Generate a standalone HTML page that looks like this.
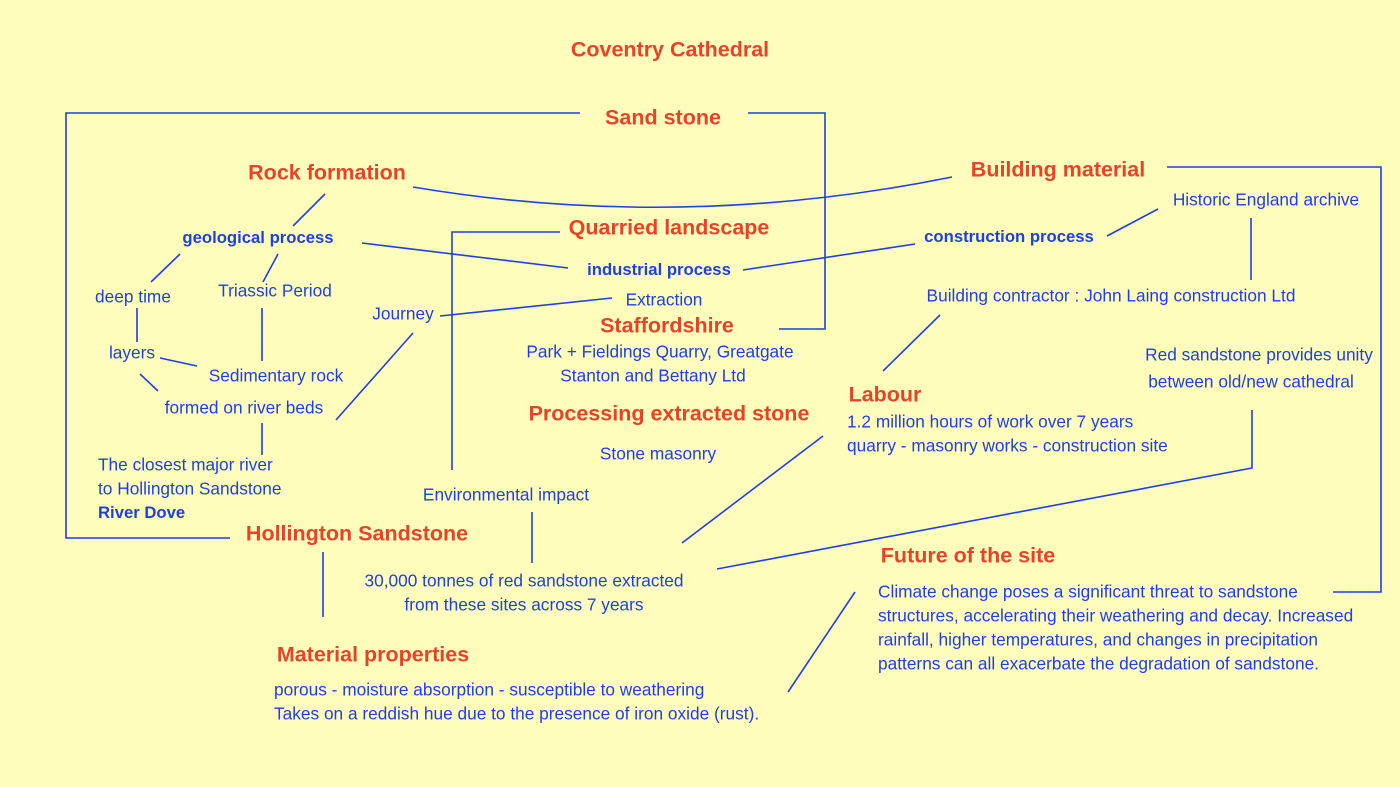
<!DOCTYPE html>
<html><head><meta charset="utf-8"><style>
html,body{margin:0;padding:0}
body{width:1400px;height:787px;background:#FFFDBB;position:relative;overflow:hidden;font-family:"Liberation Sans",sans-serif}
.t{position:absolute;white-space:nowrap;transform:translate(-50%,-50%);color:#1E3FE6;font-size:17.3px}
.l{position:absolute;white-space:nowrap;transform:translateY(-50%);color:#1E3FE6;font-size:17.3px}
.r{color:#E8432A;font-weight:bold;font-size:21.5px}
.b{font-weight:bold;font-size:16.7px}
svg{position:absolute;left:0;top:0}
</style></head><body>
<svg width="1400" height="787" fill="none" stroke="#1E3FE6" stroke-width="1.6">
<polyline points="580,113 66,113 66,538 230,538"/>
<polyline points="748,113 825,113 825,329 779,329"/>
<path d="M413,187 Q680,232 952,177"/>
<polyline points="1167,167 1381,167 1381,592 1333,592"/>
<line x1="325" y1="194" x2="293" y2="226"/>
<polyline points="560,232 452,232 452,470"/>
<line x1="362" y1="243" x2="568" y2="268"/>
<line x1="743" y1="270" x2="915" y2="244"/>
<line x1="1107" y1="236" x2="1158" y2="209"/>
<line x1="1251" y1="218" x2="1251" y2="280"/>
<line x1="180" y1="254" x2="151" y2="282"/>
<line x1="278" y1="254" x2="263" y2="282"/>
<line x1="440" y1="316" x2="612" y2="298"/>
<line x1="137" y1="308" x2="137" y2="342"/>
<line x1="262" y1="308" x2="262" y2="361"/>
<line x1="160" y1="358" x2="197" y2="366"/>
<line x1="140" y1="374" x2="158" y2="391"/>
<line x1="413" y1="333" x2="336" y2="420"/>
<line x1="262" y1="423" x2="262" y2="455"/>
<line x1="940" y1="315" x2="883" y2="371"/>
<polyline points="1252,410 1252,468 717,569"/>
<line x1="823" y1="436" x2="682" y2="543"/>
<line x1="532" y1="512" x2="532" y2="563"/>
<line x1="323" y1="552" x2="323" y2="617"/>
<line x1="855" y1="592" x2="788" y2="692"/>
</svg>
<div class="t r" style="left:670px;top:50px">Coventry Cathedral</div>
<div class="t r" style="left:663px;top:118px">Sand stone</div>
<div class="t r" style="left:327px;top:173px">Rock formation</div>
<div class="t r" style="left:1058px;top:170px">Building material</div>
<div class="t r" style="left:669px;top:228px">Quarried landscape</div>
<div class="t b" style="left:258px;top:238px">geological process</div>
<div class="t b" style="left:1009px;top:237px">construction process</div>
<div class="t" style="left:1266px;top:200px">Historic England archive</div>
<div class="t b" style="left:659px;top:270px">industrial process</div>
<div class="t" style="left:133px;top:297px">deep time</div>
<div class="t" style="left:275px;top:291px">Triassic Period</div>
<div class="t" style="left:664px;top:300px">Extraction</div>
<div class="t" style="left:403px;top:314px">Journey</div>
<div class="t" style="left:1111px;top:296px">Building contractor : John Laing construction Ltd</div>
<div class="t r" style="left:667px;top:326px">Staffordshire</div>
<div class="t" style="left:132px;top:353px">layers</div>
<div class="t" style="left:660px;top:352px">Park + Fieldings Quarry, Greatgate</div>
<div class="t" style="left:1259px;top:355px">Red sandstone provides unity</div>
<div class="t" style="left:276px;top:376px">Sedimentary rock</div>
<div class="t" style="left:653px;top:376px">Stanton and Bettany Ltd</div>
<div class="t" style="left:1251px;top:382px">between old/new cathedral</div>
<div class="t r" style="left:885px;top:395px">Labour</div>
<div class="t" style="left:244px;top:408px">formed on river beds</div>
<div class="t r" style="left:669px;top:414px">Processing extracted stone</div>
<div class="l" style="left:847px;top:422px">1.2 million hours of work over 7 years</div>
<div class="l" style="left:847px;top:446px">quarry - masonry works - construction site</div>
<div class="t" style="left:658px;top:454px">Stone masonry</div>
<div class="l" style="left:98px;top:465px">The closest major river</div>
<div class="l" style="left:98px;top:489px">to Hollington Sandstone</div>
<div class="l b" style="left:98px;top:513px">River Dove</div>
<div class="t" style="left:506px;top:495px">Environmental impact</div>
<div class="t r" style="left:357px;top:534px">Hollington Sandstone</div>
<div class="t r" style="left:968px;top:556px">Future of the site</div>
<div class="t" style="left:524px;top:581px">30,000 tonnes of red sandstone extracted</div>
<div class="t" style="left:524px;top:605px">from these sites across 7 years</div>
<div class="l" style="left:878px;top:592px">Climate change poses a significant threat to sandstone</div>
<div class="l" style="left:878px;top:616px">structures, accelerating their weathering and decay. Increased</div>
<div class="l" style="left:878px;top:640px">rainfall, higher temperatures, and changes in precipitation</div>
<div class="l" style="left:878px;top:664px">patterns can all exacerbate the degradation of sandstone.</div>
<div class="t r" style="left:373px;top:655px">Material properties</div>
<div class="l" style="left:274px;top:690px">porous - moisture absorption - susceptible to weathering</div>
<div class="l" style="left:274px;top:714px">Takes on a reddish hue due to the presence of iron oxide (rust).</div>
</body></html>
